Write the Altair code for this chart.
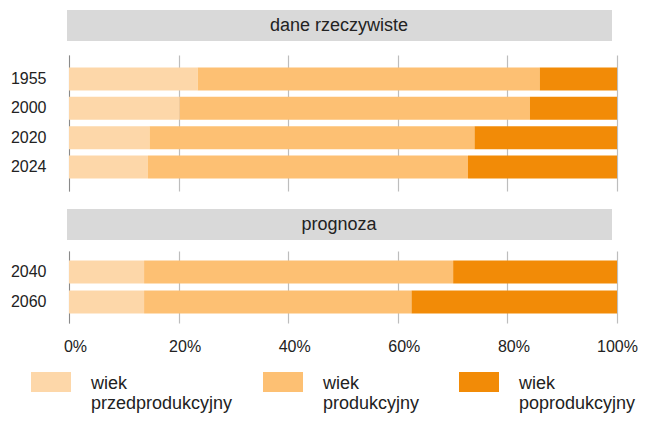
import altair as alt
import pandas as pd

# ---- data ----
panel_titles = ["dane rzeczywiste", "prognoza"]
years_actual = ["1955", "2000", "2020", "2024"]
years_forecast = ["2040", "2060"]
groups = ["wiek przedprodukcyjny", "wiek produkcyjny", "wiek poprodukcyjny"]
colors = ["#FDD7A9", "#FDC073", "#F28B07"]
pre = [23.5, 20.2, 14.7, 14.4, 13.7, 13.7]
prod = [62.4, 63.9, 59.3, 58.4, 56.4, 48.8]
post = [14.1, 15.9, 26.0, 27.2, 29.9, 37.5]
ticks = [0, 20, 40, 60, 80, 100]

years = years_actual + years_forecast
rows = []
for i, y in enumerate(years):
    for gi, (g, v) in enumerate(zip(groups, [pre[i], prod[i], post[i]])):
        rows.append({"year": y, "group": g, "idx": gi, "value": v,
                     "panel": 0 if y in years_actual else 1})
df = pd.DataFrame(rows)

FONT = "Liberation Sans"
TXT = "#222222"
W = 548

color = alt.Color("group:N", scale=alt.Scale(domain=groups, range=colors), legend=None)


def header(title, top, h):
    base = alt.Chart(pd.DataFrame({"title": [title]}))
    rect = base.mark_rect(color="#D9D9D9").encode(
        x=alt.value(-2), x2=alt.value(543), y=alt.value(top), y2=alt.value(top + 31)
    )
    txt = base.mark_text(fontSize=18, color=TXT, font=FONT, baseline="middle").encode(
        x=alt.value(270), y=alt.value(top + 15.5), text="title:N"
    )
    return alt.layer(rect, txt).properties(width=W, height=h)


def bars(data, order_years, h, pin, pout, show_labels):
    xaxis = alt.Axis(values=ticks, grid=True, gridColor="#BDBDBD", gridWidth=1.2,
                     ticks=False, domain=False, title=None, labels=show_labels,
                     labelExpr="datum.value + '%'", labelFontSize=16, labelColor=TXT,
                     labelFont=FONT, labelPadding=15, labelFlush=False,
                     labelOffset={"condition": {"test": "datum.value === 100", "value": 0}, "value": 6})
    return alt.Chart(data).mark_bar().encode(
        x=alt.X("value:Q", stack="zero", scale=alt.Scale(domain=[0, 100], nice=False), axis=xaxis),
        y=alt.Y("year:N", sort=order_years,
                scale=alt.Scale(paddingInner=pin, paddingOuter=pout),
                axis=alt.Axis(title=None, ticks=False, domain=True, domainColor="#8A8A8A",
                              labelFontSize=16, labelColor=TXT, labelFont=FONT,
                              labelPadding=23)),
        color=color,
        order=alt.Order("idx:Q"),
    ).properties(width=W, height=h)


b1 = bars(df[df.panel == 0], years_actual, 136, 0.216, 0.427, False)
b2 = bars(df[df.panel == 1], years_forecast, 72, 0.233, 0.317, True)

leg_df = pd.DataFrame({"group": groups, "idx": [0, 1, 2]})
leg_base = alt.Chart(leg_df)
lx = alt.X("idx:Q", scale=alt.Scale(domain=[0, 1, 2], range=[-38, 194, 390], zero=False, nice=False), axis=None)
sw = leg_base.mark_point(shape="M0,-0.5H2V0.5H0Z", size=1600, filled=True, opacity=1, strokeWidth=0).encode(
    x=lx, y=alt.value(59), color=color
)
lt = leg_base.mark_text(align="left", baseline="alphabetic", dx=60, dy=7, lineBreak=" ",
                        lineHeight=20, fontSize=18, color=TXT, font=FONT).encode(
    x=lx, y=alt.value(59), text="group:N"
)
legend = alt.layer(sw, lt).properties(width=W, height=82)

chart = alt.vconcat(
    header(panel_titles[0], 2, 47), b1, header(panel_titles[1], 18, 60), b2, legend,
    spacing=0, bounds="flush"
).properties(
    padding={"left": 2, "top": 0, "right": 0, "bottom": 0}
).configure(font=FONT).configure_view(stroke=None)

chart.save("out.html", embed_options={"renderer": "svg", "actions": False})
